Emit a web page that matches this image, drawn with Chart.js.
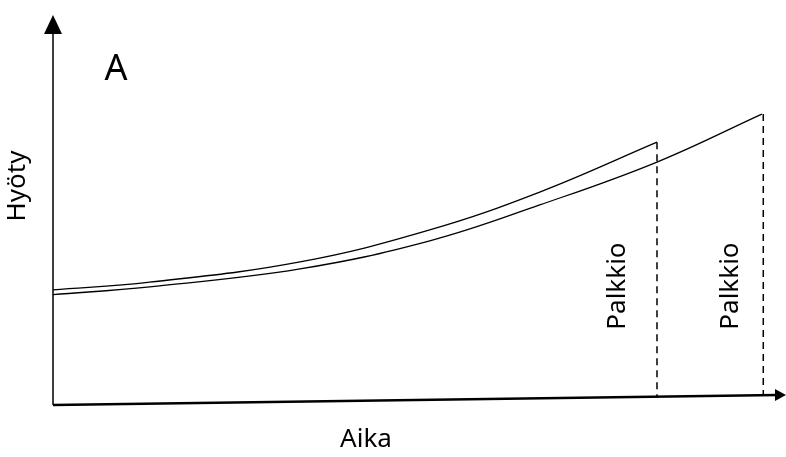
<!DOCTYPE html>
<html>
<head>
<meta charset="utf-8">
<script src="https://cdn.jsdelivr.net/npm/chart.js@4.4.0/dist/chart.umd.min.js"></script>
<style>
  body { margin: 0; background: #fff; }
  canvas { display: block; }
</style>
</head>
<body>
<canvas id="chart" width="786" height="457"></canvas>
<script>
// aika (x) and hyöty (y), both on a 0..100 scale
const aikaUpper = [0, 13.2, 33.7, 51.4, 66.4, 82.4];
const hyotyUpper = [29.5, 31.5, 36.7, 44.9, 54.6, 67.4];
const aikaLower = [0, 13.2, 33.7, 51.4, 66.4, 82.4, 96.7];
const hyotyLower = [28.3, 30.3, 34.9, 42.1, 51.3, 62.3, 74.6];

// palkkio drop lines
const palkkioX = [82.4, 96.9];
const palkkioTop = [67.4, 74.6];
const palkkioBottom = [2.0, 2.5];
const palkkioLabelX = [77.0, 92.4];

const labelText = 'Palkkio';
const FONT = '"Noto Sans", sans-serif';

const toPoints = (xs, ys) => xs.map((x, i) => ({ x: x, y: ys[i] }));

const datasets = [
    {
        data: toPoints(aikaUpper, hyotyUpper),
        borderColor: '#000',
        borderWidth: 1.3,
        pointRadius: 0,
        tension: 0.4,
        clip: false
    },
    {
        data: toPoints(aikaLower, hyotyLower),
        borderColor: '#000',
        borderWidth: 1.3,
        pointRadius: 0,
        tension: 0.4,
        clip: false
    }
];

palkkioX.forEach((x, i) => {
    datasets.push({
        data: [{ x: x, y: palkkioTop[i] }, { x: x, y: palkkioBottom[i] }],
        borderColor: '#000',
        borderWidth: 1.5,
        borderDash: [7, 5],
        pointRadius: 0,
        clip: false
    });
});

const axesAndText = {
    id: 'axesAndText',
    afterDatasetsDraw(chart) {
        const ctx = chart.ctx;
        const area = chart.chartArea;
        const xs = chart.scales.x;
        const ys = chart.scales.y;
        ctx.save();
        ctx.fillStyle = '#000';
        ctx.strokeStyle = '#000';

        // y axis with arrow
        ctx.lineWidth = 1.5;
        ctx.beginPath();
        ctx.moveTo(area.left, area.bottom);
        ctx.lineTo(area.left, area.top + 15);
        ctx.stroke();
        ctx.beginPath();
        ctx.moveTo(area.left, area.top);
        ctx.lineTo(area.left - 9, area.top + 19);
        ctx.lineTo(area.left + 9, area.top + 19);
        ctx.closePath();
        ctx.fill();

        // x axis, slightly rising towards the right
        const endY = area.bottom - 10;
        ctx.lineWidth = 2.5;
        ctx.beginPath();
        ctx.moveTo(area.left, area.bottom);
        ctx.lineTo(area.right - 8, endY);
        ctx.stroke();
        ctx.beginPath();
        ctx.moveTo(area.right, endY);
        ctx.lineTo(area.right - 11, endY - 6);
        ctx.lineTo(area.right - 11, endY + 6);
        ctx.closePath();
        ctx.fill();

        ctx.textAlign = 'center';
        ctx.textBaseline = 'middle';

        ctx.font = '36px ' + FONT;
        ctx.fillText('A', 116, 70);

        ctx.font = '26px ' + FONT;
        ctx.fillText('Aika', 366, 440);

        ctx.save();
        ctx.translate(18, 186);
        ctx.rotate(-Math.PI / 2);
        ctx.fillText('Hyöty', 0, 0);
        ctx.restore();

        palkkioLabelX.forEach(x => {
            ctx.save();
            ctx.translate(xs.getPixelForValue(x), ys.getPixelForValue(30.5));
            ctx.rotate(-Math.PI / 2);
            ctx.fillText(labelText, 0, 0);
            ctx.restore();
        });

        ctx.restore();
    }
};

const draw = () => {
    new Chart(document.getElementById('chart'), {
        type: 'line',
        data: { datasets: datasets },
        options: {
            responsive: false,
            animation: false,
            layout: { padding: { left: 53, top: 15, right: 0, bottom: 52 } },
            plugins: { legend: { display: false }, tooltip: { enabled: false } },
            scales: {
                x: { type: 'linear', min: 0, max: 100, display: false },
                y: { min: 0, max: 100, display: false }
            }
        },
        plugins: [axesAndText]
    });
};

document.fonts.load('26px "Noto Sans"').then(draw).catch(draw);
</script>
</body>
</html>
